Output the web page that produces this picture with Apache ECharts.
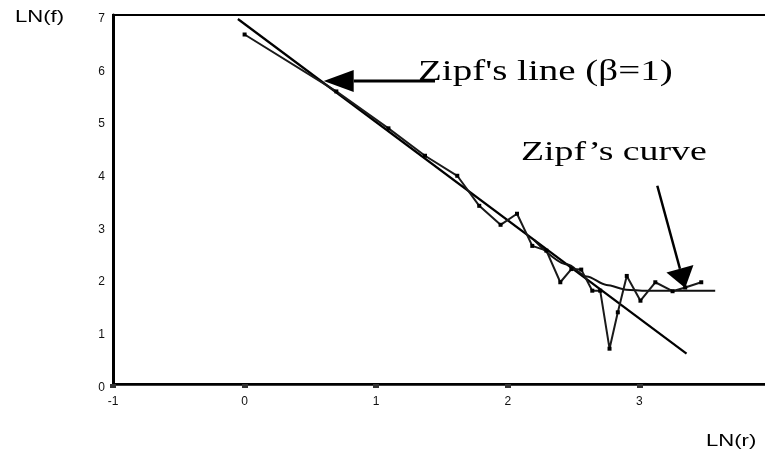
<!DOCTYPE html>
<html>
<head>
<meta charset="utf-8">
<script src="https://cdn.jsdelivr.net/npm/echarts@6/dist/echarts.min.js"></script>
<style>html,body{margin:0;padding:0;background:#fff;}#c{width:765px;height:452px;}</style>
</head>
<body>
<div id="c"></div>
<script>
// ln(rank) and ln(frequency) of the observed data
const lnRank = [0, 0.697, 1.093, 1.371, 1.616, 1.783, 1.945, 2.070, 2.186, 2.293, 2.399, 2.483, 2.558, 2.642, 2.702, 2.773, 2.836, 2.904, 3.008, 3.121, 3.252, 3.348, 3.470];
const lnFreq = [6.63, 5.55, 4.85, 4.33, 3.95, 3.38, 3.02, 3.23, 2.62, 2.53, 1.93, 2.18, 2.17, 1.77, 1.77, 0.67, 1.36, 2.05, 1.58, 1.93, 1.76, 1.83, 1.93];
// Zipf's line (beta = 1)
const zipfLineX = [-0.051, 3.358];
const zipfLineY = [6.924, 0.574];
// Zipf's curve
const curveX = [2.2, 2.45, 2.6, 2.75, 2.9, 3.05, 3.576];
const curveY = [2.731, 2.27, 2.04, 1.88, 1.79, 1.768, 1.768];
// annotation arrows (tail -> tip)
const arrowTail = [[1.447, 5.75], [3.136, 3.761]];
const arrowTip = [[0.601, 5.75], [3.348, 1.82]];
// ticks
const xTicks = [-1, 0, 1, 2, 3, 4];
const yTicks = [0, 1, 2, 3, 4, 5, 6, 7];
const labels = { yName: 'LN(f)', xName: 'LN(r)', lineLabel: "Zipf's line (\u03B2=1)", curveLabel: 'Zipf\u2019s curve' };

const chart = echarts.init(document.getElementById('c'), null, { renderer: 'canvas' });
const zip = (a, b) => a.map((v, i) => [v, b[i]]);

chart.setOption({
  animation: false,
  backgroundColor: '#fff',
  grid: { left: 113, width: 658, top: 15, height: 369, show: true, borderColor: '#000', borderWidth: 2, containLabel: false, outerBoundsMode: 'none' },
  xAxis: {
    type: 'value', min: xTicks[0], max: xTicks[xTicks.length - 1], interval: 1,
    axisLine: { show: true, onZero: false, lineStyle: { color: '#000', width: 2.5 } },
    axisTick: { show: true, length: 4, lineStyle: { color: '#333', width: 6 } },
    axisLabel: { fontSize: 12, color: '#111', fontFamily: 'Liberation Sans', margin: 12, showMaxLabel: true },
    splitLine: { show: false }
  },
  yAxis: {
    type: 'value', min: yTicks[0], max: yTicks[yTicks.length - 1], interval: 1,
    axisLine: { show: true, onZero: false, lineStyle: { color: '#000', width: 3 } },
    axisTick: { show: false },
    axisLabel: { fontSize: 12, color: '#111', fontFamily: 'Liberation Sans', margin: 8, verticalAlign: 'top', lineHeight: 7 },
    splitLine: { show: false }
  },
  series: [
    {
      type: 'line', data: zip(zipfLineX, zipfLineY), symbol: 'none',
      lineStyle: { color: '#000', width: 2.2 }, clip: false, z: 3
    },
    {
      type: 'line', data: zip(curveX, curveY), symbol: 'none', smooth: 0.3, smoothMonotone: 'x',
      lineStyle: { color: '#111', width: 2 }, clip: false, z: 3
    },
    {
      type: 'line', data: zip(lnRank, lnFreq), symbol: 'rect', symbolSize: 4,
      itemStyle: { color: '#000' }, lineStyle: { color: '#1a1a1a', width: 2 }, clip: false, z: 4
    },
    {
      type: 'custom', clip: false, z: 5,
      encode: { x: [0, 2], y: [1, 3] },
      data: arrowTail.map((t, i) => [t[0], t[1], arrowTip[i][0], arrowTip[i][1]]),
      renderItem: function (params, api) {
        const a = api.coord([api.value(0), api.value(1)]);
        const b = api.coord([api.value(2), api.value(3)]);
        const head = params.dataIndex === 0 ? [30, 22] : [20, 28];
        const dx = b[0] - a[0], dy = b[1] - a[1];
        const len = Math.hypot(dx, dy);
        const ux = dx / len, uy = dy / len;
        const bx = b[0] - ux * head[0], by = b[1] - uy * head[0];
        const nx = -uy, ny = ux, w = head[1] / 2;
        return {
          type: 'group',
          children: [
            { type: 'line', shape: { x1: a[0], y1: a[1], x2: bx, y2: by }, style: { stroke: '#000', lineWidth: params.dataIndex === 0 ? 3 : 2.5 } },
            { type: 'polygon', shape: { points: [[b[0], b[1]], [bx + nx * w, by + ny * w], [bx - nx * w, by - ny * w]] }, style: { fill: '#000' } }
          ]
        };
      }
    }
  ],
  graphic: [
    { type: 'text', x: 15, y: 17.4, scaleX: 1.3, style: { text: labels.yName, font: '17px "Liberation Sans"', fill: '#000', align: 'left', verticalAlign: 'middle' } },
    { type: 'text', x: 706, y: 441.4, scaleX: 1.3, style: { text: labels.xName, font: '17px "Liberation Sans"', fill: '#000', align: 'left', verticalAlign: 'middle' } },
    { type: 'text', x: 418, y: 72, scaleX: 1.3, style: { text: labels.lineLabel, font: '30px "Liberation Serif"', fill: '#000', align: 'left', verticalAlign: 'middle' } },
    { type: 'text', x: 521, y: 153, scaleX: 1.4, style: { text: labels.curveLabel, font: '27px "Liberation Serif"', fill: '#000', align: 'left', verticalAlign: 'middle' } }
  ]
});
</script>
</body>
</html>
